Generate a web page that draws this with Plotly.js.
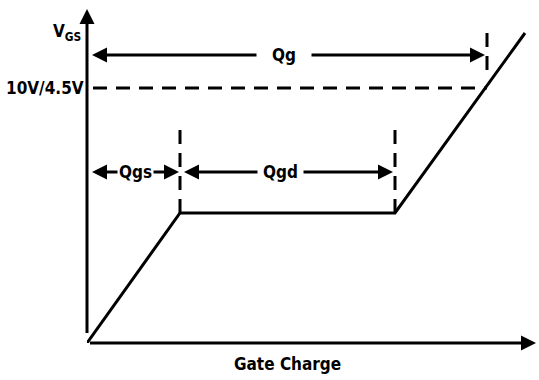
<!DOCTYPE html>
<html>
<head>
<meta charset="utf-8">
<script src="https://cdn.plot.ly/plotly-3.0.1.min.js"></script>
<style>
  html, body { margin: 0; padding: 0; background: #fff; }
  #chart { width: 539px; height: 380px; }
</style>
</head>
<body>
<div id="chart"></div>
<script>
// Gate charge waveform (arbitrary units)
const gateCharge = [0, 93, 308, 438];
const vgs = [0, 130, 130, 310];

// charge boundaries
const qgsEnd = 93;
const qgdEnd = 308;
const qgEnd = 400;
const vDrive = 255;          // 10V / 4.5V level

const labels = ['Qg', 'Qgs', 'Qgd'];
const fontFam = '"DejaVu Sans Condensed", "Liberation Sans Narrow", Arial, sans-serif';

// waveform + dashed guides
let traces = [{
  x: gateCharge, y: vgs,
  type: 'scatter', mode: 'lines',
  line: { color: '#000', width: 3 },
  hoverinfo: 'skip'
}];

let dash = { color: '#000', width: 3, dash: '14px,9px' };
let shapes = [
  { type: 'line', x0: 6, x1: qgEnd, y0: vDrive, y1: vDrive, line: dash },
  { type: 'line', x0: qgsEnd, x1: qgsEnd, y0: 130, y1: 216, line: dash },
  { type: 'line', x0: qgdEnd, x1: qgdEnd, y0: 130, y1: 216, line: dash },
  { type: 'line', x0: qgEnd, x1: qgEnd, y0: 273, y1: 313, line: dash }
];

// arrow helper
function arrow(x, y, ax, ay, both) {
  return {
    x: x, y: y, ax: ax, ay: ay,
    xref: 'x', yref: 'y', axref: 'x', ayref: 'y',
    text: ' ', showarrow: true,
    arrowhead: 2, arrowsize: 1, arrowwidth: 3, arrowcolor: '#000',
    startarrowhead: 2, startarrowsize: 1,
    arrowside: both ? 'end+start' : 'end'
  };
}

function label(text, x, y, opts) {
  return Object.assign({
    x: x, y: y, xref: 'x', yref: 'y', text: '<b>' + text + '</b>', showarrow: false,
    font: { family: fontFam, size: 17, color: '#000' },
    bgcolor: '#fff'
  }, opts || {});
}

let annotations = [
  // axes
  arrow(0, 334, 0, 0, false),
  arrow(449, 0, 0, 0, false),
  // Qg / Qgs / Qgd spans
  arrow(qgEnd - 2, 288, 2, 288, true),
  arrow(qgsEnd - 1, 171, 2, 171, true),
  arrow(qgdEnd - 2, 171, qgsEnd + 1, 171, true),
  label(labels[0], 197, 288, { borderpad: 15 }),
  label(labels[1], 48, 171, { borderpad: 1 }),
  label(labels[2], 193, 171, { borderpad: 5 }),
  label('V<sub>GS</sub>', 0, 311, { xanchor: 'right', xshift: -4, bgcolor: 'rgba(0,0,0,0)' }),
  label('10V/4.5V', 0, vDrive, { xanchor: 'right', xshift: -1, bgcolor: 'rgba(0,0,0,0)' }),
  label('Gate Charge', 200, 0, { yanchor: 'top', yshift: -9, bgcolor: 'rgba(0,0,0,0)' })
];

let layout = {
  width: 539, height: 380,
  margin: { l: 87, r: 0, t: 0, b: 37 },
  paper_bgcolor: '#fff', plot_bgcolor: '#fff',
  showlegend: false,
  xaxis: { range: [0, 452], visible: false, fixedrange: true },
  yaxis: { range: [0, 343], visible: false, fixedrange: true },
  shapes: shapes,
  annotations: annotations
};

Plotly.newPlot('chart', traces, layout, { displayModeBar: false, staticPlot: true });
</script>
</body>
</html>
